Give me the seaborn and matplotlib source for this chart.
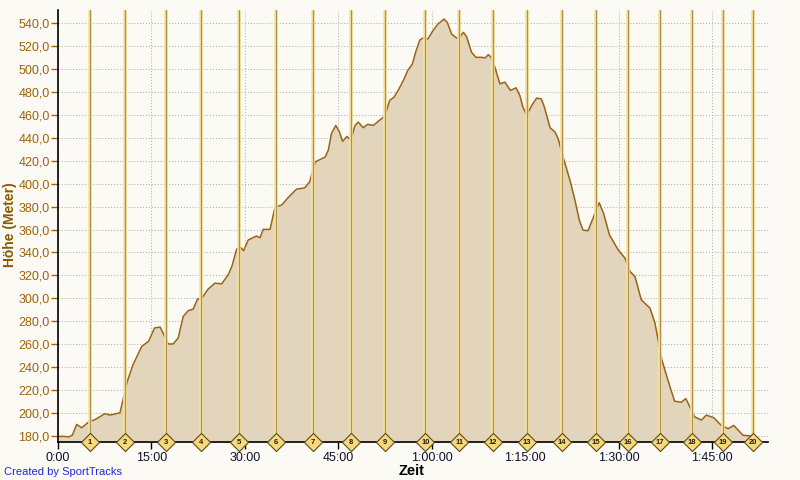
import matplotlib
matplotlib.use("Agg")
import matplotlib.pyplot as plt
import seaborn as sns
from matplotlib.ticker import FuncFormatter, MultipleLocator

# elevation profile: time in minutes, height in metres
minutes = [0.0, 1.0, 1.7, 2.3, 3.0, 3.8, 4.9, 6.0, 7.5, 8.4, 9.95, 10.45, 11.05, 12.05,
           13.45, 14.55, 15.5, 16.4, 17.7, 18.5, 19.3, 20.1, 20.9, 21.7, 22.4, 23.1, 24.1,
           25.2, 26.3, 27.4, 27.9, 28.7, 29.3, 29.8, 30.55, 31.85, 32.45, 32.95, 34.05,
           34.85, 35.9, 36.9, 38.3, 39.6, 40.4, 41.3, 42.9, 43.4, 43.9, 44.6, 45.2, 45.7,
           46.4, 47.0, 47.7, 48.2, 49.0, 49.7, 50.65, 51.45, 52.45, 53.25, 53.95, 54.75,
           55.45, 56.15, 56.9, 57.5, 58.1, 58.6, 59.4, 60.2, 61.0, 62.0, 62.5, 63.2, 64.0,
           64.5, 65.1, 65.6, 66.4, 67.1, 68.0, 68.6, 69.1, 69.55, 70.15, 70.95, 71.75,
           72.65, 73.55, 74.15, 74.65, 75.25, 76.05, 76.85, 77.6, 78.1, 79.0, 79.8, 80.3,
           81.1, 82.2, 83.0, 83.7, 84.3, 85.1, 85.9, 86.5, 86.9, 87.6, 88.55, 89.95, 91.05,
           91.85, 92.65, 93.65, 95.05, 95.85, 96.95, 97.9, 99.0, 100.1, 100.8, 101.4, 102.2,
           103.3, 104.1, 105.3, 106.5, 107.6, 108.5, 110.0, 111.55]
height = [180, 180, 179.5, 181, 190.4, 187.5, 192.4, 194.7, 199.7, 198.5, 200.5, 212, 226.6,
          242.4, 258.3, 262.7, 274.3, 275.1, 260.4, 260.4, 265.6, 284.3, 289.3, 290.7, 299.4,
          300.3, 308.1, 313.3, 312.7, 321.4, 327.7, 343.0, 344.5, 341.6, 350.9, 354.3, 352.9,
          360.1, 360.1, 379.7, 381.2, 387.5, 395.1, 396.2, 401.4, 418.8, 423.1, 428.9, 443.4,
          450.6, 444.8, 436.7, 441.0, 437.6, 450.6, 453.5, 448.6, 451.5, 450.6, 454.3, 458.4,
          472.3, 475.1, 482.4, 489.6, 498.3, 504.0, 515.6, 524.9, 526.6, 525.8, 533.0, 538.8,
          543.1, 540.2, 530.1, 526.6, 527.8, 531.5, 527.8, 514.2, 509.8, 509.8, 509.3, 512.2,
          509.8, 501.2, 486.8, 488.2, 481.0, 483.3, 476.6, 466.5, 459.3, 467.9, 474.3, 473.7,
          466.5, 448.6, 444.8, 439.1, 423.1, 402.9, 385.5, 368.2, 359.5, 358.9, 369.7, 378.4,
          383.2, 374.0, 355.2, 342.2, 335.0, 323.4, 319.0, 298.8, 291.6, 278.6, 246.8, 229.4,
          210.6, 209.7, 212.9, 206.3, 197.1, 194.1, 198.5, 196.2, 189.5, 186.7, 189.5, 180.9,
          180.3]

# lap markers (minutes)
lap_times = [5.14, 10.75, 17.29, 22.91, 29.10, 35.04, 40.98, 47.08, 52.54, 58.99, 64.41,
             69.87, 75.33, 80.85, 86.40, 91.54, 96.63, 101.81, 106.79, 111.56]
lap_labels = [str(i) for i in range(1, 21)]

y_ticks = list(range(180, 541, 20))

bg = "#fbfaf5"
fill_col = "#e3d4bc"
line_col = "#9a6414"
tick_col = "#a0620a"

sns.set_style("white")
plt.rcParams["font.family"] = ["Liberation Sans", "DejaVu Sans"]

fig = plt.figure(figsize=(8, 4.8), dpi=100, facecolor=bg)
ax = fig.add_axes([58 / 800, 38 / 480, 710 / 800, 432 / 480])
ax.set_facecolor(bg)

ax.set_xlim(0, 114.0)
ax.set_ylim(175.1, 551.0)

# grid
ax.yaxis.set_major_locator(MultipleLocator(20))
ax.xaxis.set_major_locator(MultipleLocator(15))
ax.grid(True, color="#a8a8a8", linestyle=(0, (1, 2)), linewidth=0.7)
ax.set_axisbelow(True)

# profile
ax.fill_between(minutes, height, 175.1, color=fill_col, zorder=2, linewidth=0)
sns.lineplot(x=minutes, y=height, ax=ax, color=line_col, linewidth=1.1, zorder=3,
             estimator=None, sort=False)

# lap lines
for t in lap_times:
    ax.axvline(t, color="#f7e3a0", linewidth=2.6, zorder=4)
    ax.axvline(t, color="#b09248", linewidth=0.9, zorder=5)

# lap diamonds
sns.scatterplot(x=lap_times, y=[175.1] * len(lap_times), ax=ax, marker="D", s=85,
                color="#f8d878", edgecolor="#5a4a18", linewidth=0.8, zorder=7,
                clip_on=False, legend=False)
for t, lab in zip(lap_times, lap_labels):
    ax.text(t, 175.1, lab, ha="center", va="center", fontsize=5.5, fontweight="bold",
            color="#202020", zorder=8, clip_on=False)

# spines
for side in ["top", "right"]:
    ax.spines[side].set_visible(False)
ax.spines["left"].set_color("black")
ax.spines["bottom"].set_color("black")
ax.spines["left"].set_linewidth(1.2)
ax.spines["bottom"].set_linewidth(1.2)
ax.spines["left"].set_zorder(9)
ax.spines["bottom"].set_zorder(6)


def fmt_time(v, pos):
    total = int(round(v * 60))
    h, rem = divmod(total, 3600)
    m, s = divmod(rem, 60)
    if h:
        return f"{h}:{m:02d}:{s:02d}"
    return f"{m}:{s:02d}"


ax.xaxis.set_major_formatter(FuncFormatter(fmt_time))
ax.yaxis.set_major_formatter(FuncFormatter(lambda v, p: f"{v:.1f}".replace(".", ",")))
ax.set_yticks(y_ticks)

ax.tick_params(axis="y", direction="out", length=5, width=1, color=tick_col,
               labelcolor=tick_col, labelsize=9, pad=1, left=True)
ax.tick_params(axis="x", direction="out", length=5, width=1, color="black",
               labelcolor="#101030", labelsize=9, pad=2, bottom=True)

fig.text(0.0125, 0.531, "Höhe (Meter)", rotation=90, ha="center", va="center",
         fontsize=10, fontweight="bold", color="#8b5a00")
fig.text(0.515, 0.019, "Zeit", ha="center", va="center", fontsize=10.5,
         fontweight="bold", color="black")
fig.text(0.005, 0.016, "Created by SportTracks", ha="left", va="center",
         fontsize=8, color="#2424e6")

fig.savefig("out.png", dpi=100, facecolor=bg)
